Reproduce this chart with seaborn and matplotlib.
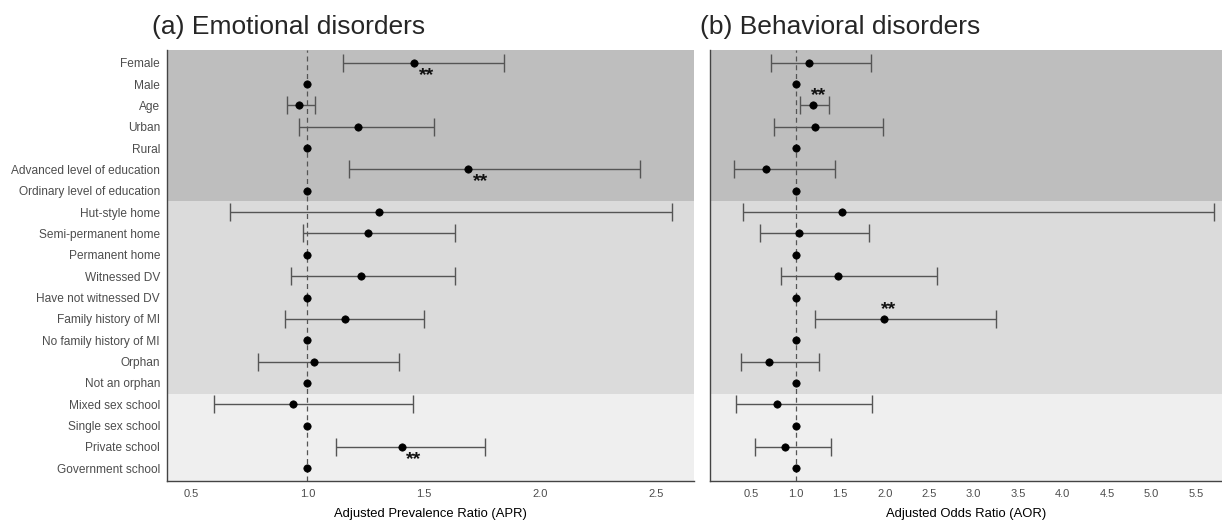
import numpy as np
import pandas as pd
import matplotlib
matplotlib.use("Agg")
import matplotlib.pyplot as plt
import seaborn as sns

categories = ["Female", "Male", "Age", "Urban", "Rural",
              "Advanced level of education", "Ordinary level of education",
              "Hut-style home", "Semi-permanent home", "Permanent home",
              "Witnessed DV", "Have not witnessed DV",
              "Family history of MI", "No family history of MI",
              "Orphan", "Not an orphan",
              "Mixed sex school", "Single sex school",
              "Private school", "Government school"]

apr_est = [1.46, 1.00, 0.965, 1.217, 1.00, 1.692, 1.00, 1.308, 1.262, 1.00,
           1.231, 1.00, 1.163, 1.00, 1.029, 1.00, 0.937, 1.00, 1.406, 1.00]
apr_low = [1.152, None, 0.912, 0.962, None, 1.181, None, 0.667, 0.981, None,
           0.931, None, 0.902, None, 0.790, None, 0.600, None, 1.121, None]
apr_high = [1.844, None, 1.033, 1.542, None, 2.427, None, 2.565, 1.633, None,
            1.633, None, 1.502, None, 1.392, None, 1.452, None, 1.763, None]
apr_sig = ["Female", "Advanced level of education", "Private school"]

aor_est = [1.15, 1.00, 1.199, 1.221, 1.00, 0.670, 1.00, 1.52, 1.041, 1.00,
           1.472, 1.00, 1.989, 1.00, 0.697, 1.00, 0.790, 1.00, 0.876, 1.00]
aor_low = [0.719, None, 1.049, 0.757, None, 0.307, None, 0.408, 0.596, None,
           0.839, None, 1.217, None, 0.386, None, 0.333, None, 0.543, None]
aor_high = [1.846, None, 1.375, 1.978, None, 1.438, None, 5.697, 1.828, None,
            2.584, None, 3.255, None, 1.266, None, 1.858, None, 1.397, None]
aor_sig = ["Age", "Family history of MI"]

apr_ticks = [0.5, 1.0, 1.5, 2.0, 2.5]
aor_ticks = [0.5, 1.0, 1.5, 2.0, 2.5, 3.0, 3.5, 4.0, 4.5, 5.0, 5.5]

titles = ["(a) Emotional disorders", "(b) Behavioral disorders"]
xlabels = ["Adjusted Prevalence Ratio (APR)", "Adjusted Odds Ratio (AOR)"]

sns.set_theme(style="white")
plt.rcParams["font.family"] = ["Liberation Sans", "DejaVu Sans"]

fig = plt.figure(figsize=(12.22, 5.25), dpi=100)
ax1 = fig.add_axes([167 / 1222, 1 - 481 / 525, (694 - 167) / 1222, (481 - 50) / 525])
ax2 = fig.add_axes([710 / 1222, 1 - 481 / 525, (1222 - 710) / 1222, (481 - 50) / 525])

band_colors = ["#BEBEBE", "#DBDBDB", "#EFEFEF"]
band_edges = [(-0.6, 6.5), (6.5, 15.5), (15.5, 19.6)]


def draw(ax, est, low, high, sig, ticks, xlim, sig_below):
    df = pd.DataFrame({"cat": categories, "est": est,
                       "low": low, "high": high})
    df["row"] = np.arange(len(df))
    for (a, b), c in zip(band_edges, band_colors):
        ax.axhspan(a, b, color=c, lw=0, zorder=0)
    ax.axvline(1.0, color="#555555", lw=0.9, ls=(0, (4, 3)), zorder=1)
    ci = df.dropna(subset=["low", "high"])
    ax.errorbar(ci["est"], ci["row"],
                xerr=[ci["est"] - ci["low"], ci["high"] - ci["est"]],
                fmt="none", ecolor="#555555", elinewidth=1.0,
                capsize=6.8, capthick=1.0, zorder=2)
    sns.scatterplot(data=df, x="est", y="row", ax=ax, color="black",
                    s=28, edgecolor="black", linewidth=0.5, zorder=3,
                    legend=False)
    for _, r in df[df["cat"].isin(sig)].iterrows():
        if sig_below:
            off = (3.0, -9.0)
        else:
            off = (-2.0, 7.0)
        ax.annotate("**", (r["est"], r["row"]), xytext=off,
                    textcoords="offset points", ha="left", va="center",
                    fontsize=14, fontweight="bold", color="#111111")
    ax.set_xlim(*xlim)
    ax.set_ylim(19.6, -0.6)
    ax.set_xticks(ticks)
    ax.set_xticklabels([f"{t:.1f}" for t in ticks])
    ax.set_ylabel("")
    for s in ["top", "right"]:
        ax.spines[s].set_visible(False)
    for s in ["left", "bottom"]:
        ax.spines[s].set_color("#444444")
        ax.spines[s].set_linewidth(1.0)
    ax.tick_params(axis="x", length=3, color="#444444", labelsize=8,
                   labelcolor="#4D4D4D", pad=3, width=0.8)


draw(ax1, apr_est, apr_low, apr_high, apr_sig, apr_ticks, (0.397, 2.661), True)
draw(ax2, aor_est, aor_low, aor_high, aor_sig, aor_ticks, (0.037, 5.79), False)

ax1.set_yticks(np.arange(len(categories)))
ax1.set_yticklabels(categories)
ax1.tick_params(axis="y", length=3, color="#444444", labelsize=8.6,
                labelcolor="#4D4D4D", pad=2, width=0.8)
ax2.set_yticks([])

for ax, lab in zip([ax1, ax2], xlabels):
    ax.set_xlabel(lab, fontsize=9.4, color="black", labelpad=6)

fig.text(152 / 1222, 1 - 27 / 525, titles[0], fontsize=19, va="center",
         ha="left")
fig.text(700 / 1222, 1 - 27 / 525, titles[1], fontsize=19, va="center",
         ha="left")

fig.savefig("out.png", dpi=100)
